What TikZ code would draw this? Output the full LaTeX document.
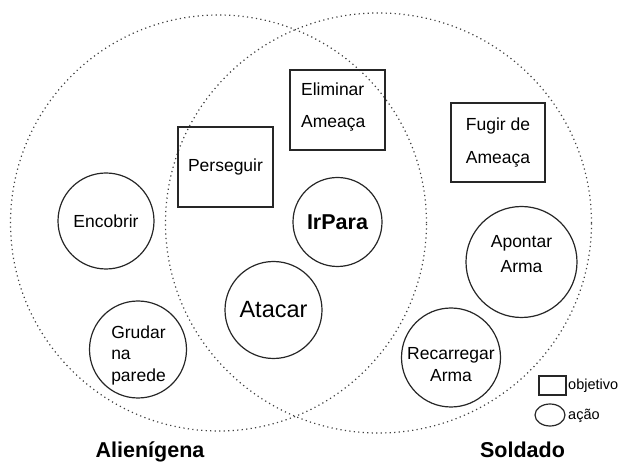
\documentclass[tikz,border=0pt]{standalone}
\usepackage{fontspec}
\setmainfont{Liberation Sans}
\usetikzlibrary{shapes.geometric}
\begin{document}
\begin{tikzpicture}[x=1pt,y=-1pt,
  region/.style={draw=black!75, line width=1.2pt, dash pattern=on 1.2pt off 3.3pt, inner sep=0pt},
  action/.style={circle, draw=black!85, line width=1.2pt, inner sep=0pt},
  goal/.style={rectangle, draw=black!85, line width=1.2pt, inner sep=0pt},
  txt/.style={inner sep=0pt, font=\fontsize{17.5}{21.5}\selectfont},
  side/.style={inner sep=0pt, font=\fontsize{21.5}{26}\selectfont\bfseries},
  legtxt/.style={inner sep=0pt, anchor=west, font=\fontsize{14.5}{18}\selectfont}]
\useasboundingbox (0,0) rectangle (619,462);
% regions
\node[region, circle, minimum size=416pt] (alien) at (218.5,223) {};
\node[region, ellipse, minimum width=426pt, minimum height=420pt] (soldier) at (378.5,223) {};
% goals
\node[goal, minimum width=95pt, minimum height=80pt] (elim) at (337.5,110) {};
\node[txt, align=left, font=\fontsize{17.5}{32}\selectfont] (elimtxt) at (333.2,106.6) {Eliminar\\Amea\c{c}a};
\node[goal, txt, minimum width=95pt, minimum height=80pt] (pers) at (225.5,167) {Perseguir};
\node[goal, txt, align=center, font=\fontsize{17.5}{33}\selectfont, minimum width=94pt, minimum height=79pt] (fugir) at (498,142.5) {Fugir de\\Amea\c{c}a};
% actions
\node[action, txt, minimum size=96pt] (enc) at (106,221) {Encobrir};
\node[action, minimum size=97pt] (grudar) at (138,349.5) {};
\node[txt, align=left] (grudartxt) at (138.5,355.2) {Grudar\\na\\parede};
\node[action, minimum size=89pt, font=\fontsize{21.5}{26}\selectfont\bfseries] (irpara) at (337.5,222) {IrPara};
\node[action, minimum size=97pt, font=\fontsize{23.5}{28}\selectfont] (atacar) at (273.5,310) {Atacar};
\node[action, minimum size=111pt] (apontar) at (521.5,262) {};
\node[txt, align=center, font=\fontsize{17.5}{25}\selectfont] (apontartxt) at (521.5,254.4) {Apontar\\Arma};
\node[action, minimum size=99pt] (recarregar) at (451,357.5) {};
\node[txt, align=center, font=\fontsize{17.5}{22}\selectfont] (recarregartxt) at (451,365) {Recarregar\\Arma};
% legend
\node[goal, minimum width=27pt, minimum height=19pt] (legbox) at (552.5,385.5) {};
\node[legtxt] (legboxtxt) at (568,386.2) {objetivo};
\node[action, ellipse, minimum width=30pt, minimum height=22pt] (legell) at (550,415) {};
\node[legtxt] (legelltxt) at (568,416) {a\c{c}\~ao};
% side labels
\node[side] (alientxt) at (150,451.5) {Alien\'igena};
\node[side] (soldiertxt) at (522.5,450.3) {Soldado};
\end{tikzpicture}
\end{document}
